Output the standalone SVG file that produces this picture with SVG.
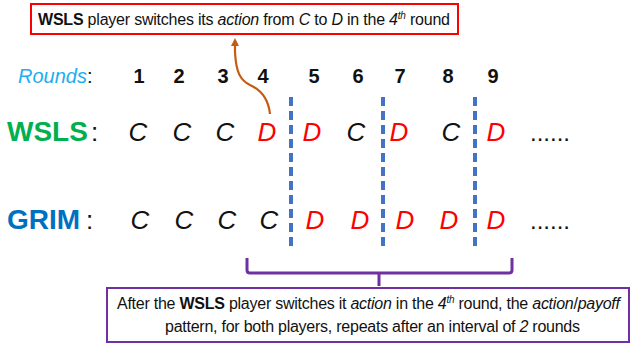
<svg xmlns="http://www.w3.org/2000/svg" width="631" height="345" viewBox="0 0 631 345">
<defs>
<style>
.t{font-family:"Liberation Sans",Arial,sans-serif;}
.box{font-family:"Liberation Sans",Arial,sans-serif;font-size:16px;fill:#111;}
.num{font-family:"Liberation Sans",Arial,sans-serif;font-size:20px;font-weight:bold;fill:#111;text-anchor:middle;}
.lab{font-family:"Liberation Sans",Arial,sans-serif;font-size:28px;font-weight:bold;}
.a{font-family:"Liberation Sans",Arial,sans-serif;font-size:26px;font-style:italic;text-anchor:middle;}
.c{fill:#111;}
.d{fill:#ff0000;}
.i{font-style:italic;}
.b{font-weight:bold;}
.dash{stroke:#4472c4;stroke-width:4;stroke-dasharray:9 5;fill:none;}
</style>
<marker id="arr" markerWidth="10" markerHeight="10" refX="5" refY="5" orient="auto" markerUnits="userSpaceOnUse">
<path d="M1,1 L9,5 L1,9 z" fill="#c55a11"/>
</marker>
</defs>
<rect width="631" height="345" fill="#fff"/>

<g id="note-top">
<rect x="31" y="4" width="427" height="30" fill="#fff" stroke="#ff0000" stroke-width="2"/>
<text class="box" x="38" y="25" textLength="412"><tspan class="b">WSLS</tspan> player switches its <tspan class="i">action</tspan> from <tspan class="i">C</tspan> to <tspan class="i">D</tspan> in the <tspan class="i">4</tspan><tspan class="i" font-size="10" dy="-6">th</tspan><tspan dy="6"> round</tspan></text>
</g>

<g id="rounds">
<text class="t" x="18" y="83" font-size="20" font-style="italic" fill="#1eaeef">Rounds<tspan fill="#111" font-style="normal">:</tspan></text>
<text class="num" x="139" y="83">1</text>
<text class="num" x="179" y="83">2</text>
<text class="num" x="223" y="83">3</text>
<text class="num" x="263" y="83">4</text>
<text class="num" x="314" y="83">5</text>
<text class="num" x="358" y="83">6</text>
<text class="num" x="400" y="83">7</text>
<text class="num" x="448" y="83">8</text>
<text class="num" x="493" y="83">9</text>
</g>

<g id="wsls">
<text class="lab" x="7" y="141" fill="#00b050">WSLS</text>
<text class="t" x="91" y="141" font-size="26" fill="#111">:</text>
<text class="a c" x="138" y="141">C</text>
<text class="a c" x="182" y="141">C</text>
<text class="a c" x="225" y="141">C</text>
<text class="a d" x="267" y="141">D</text>
<text class="a d" x="312" y="141">D</text>
<text class="a c" x="356" y="141">C</text>
<text class="a d" x="399" y="141">D</text>
<text class="a c" x="451" y="141">C</text>
<text class="a d" x="496" y="141">D</text>
<text class="t" x="530" y="141" font-size="24" fill="#111">......</text>
</g>

<g id="grim">
<text class="lab" x="7" y="229" fill="#0070c0" font-size="31">GRIM</text>
<text class="t" x="86" y="229" font-size="26" fill="#111">:</text>
<text class="a c" x="140" y="229">C</text>
<text class="a c" x="184" y="229">C</text>
<text class="a c" x="227" y="229">C</text>
<text class="a c" x="269" y="229">C</text>
<text class="a d" x="315" y="229">D</text>
<text class="a d" x="360" y="229">D</text>
<text class="a d" x="405" y="229">D</text>
<text class="a d" x="449" y="229">D</text>
<text class="a d" x="496" y="229">D</text>
<text class="t" x="530" y="229" font-size="24" fill="#111">......</text>
</g>

<g id="note-bottom">
<rect x="107" y="288" width="522" height="54" fill="#fff" stroke="#7030a0" stroke-width="2"/>
<text class="box" x="117" y="309" textLength="503">After the <tspan class="b">WSLS</tspan> player switches it <tspan class="i">action</tspan> in the <tspan class="i">4</tspan><tspan class="i" font-size="10" dy="-6">th</tspan><tspan dy="6"> round, the </tspan><tspan class="i">action</tspan>/<tspan class="i">payoff</tspan></text>
<text class="box" x="165" y="332" textLength="415">pattern, for both players, repeats after an interval of <tspan class="i">2</tspan> rounds</text>
</g>

<g id="connectors">
<line class="dash" x1="291" y1="97" x2="291" y2="250"/>
<line class="dash" x1="383" y1="97" x2="383" y2="250"/>
<line class="dash" x1="475" y1="97" x2="475" y2="250"/>
<path d="M270,114 C268,96 259,89 250,85 C240,80 236,72 235,52 L235,42" fill="none" stroke="#c55a11" stroke-width="2.2" marker-end="url(#arr)"/>
<path d="M247,258 L247,270 Q247,273 250,273 L509,273 Q512,273 512,270 L512,258 M379,273 L379,286" fill="none" stroke="#7030a0" stroke-width="3"/>
</g>
</svg>
